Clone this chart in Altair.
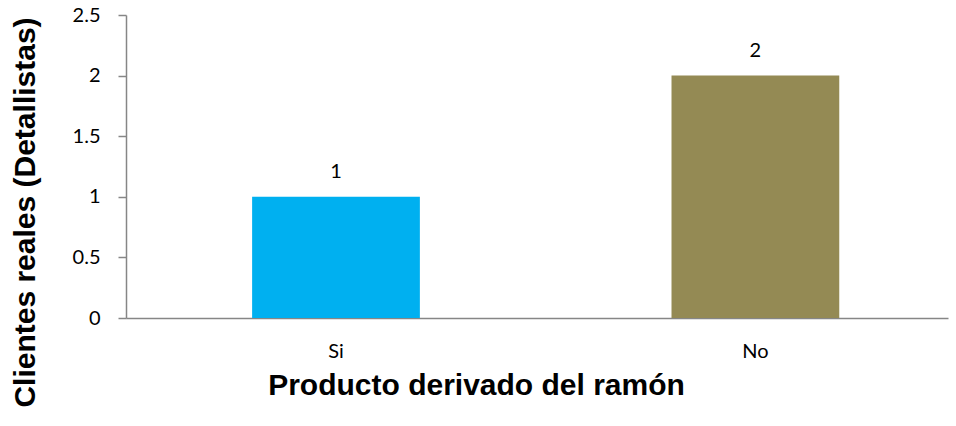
import altair as alt
import pandas as pd

categories = ["Si", "No"]
values = [1, 2]
colors = ["#00B0F0", "#948A54"]
y_ticks = [0, 0.5, 1, 1.5, 2, 2.5]

df = pd.DataFrame({"cat": categories, "val": values})

x_enc = alt.X(
    "cat:N",
    sort=categories,
    scale=alt.Scale(paddingInner=0.6, paddingOuter=0.28, align=0.537),
    axis=alt.Axis(
        title="Producto derivado del ramón",
        titleFont="Liberation Sans", titleFontSize=30, titleFontWeight="bold",
        titleColor="#000000", titleX=350, titleY=67, titleBaseline="middle",
        titleAlign="center",
        labelFont="Lato", labelFontSize=20, labelColor="#000000",
        labelAngle=0, labelPadding=23, ticks=False,
        domainColor="#868686", domainWidth=1.5,
    ),
)

bars = alt.Chart(df).mark_bar().encode(
    x=x_enc,
    y=alt.Y(
        "val:Q",
        scale=alt.Scale(domain=[0, 2.5], nice=False),
        axis=alt.Axis(
            title="Clientes reales (Detallistas)",
            titleFont="Liberation Sans", titleFontSize=30, titleFontWeight="bold",
            titleColor="#000000", titleAngle=-90, titleX=-101, titleY=197,
            titleBaseline="middle", titleAlign="center",
            values=y_ticks, format="~g",
            labelFont="Lato", labelFontSize=20, labelColor="#000000",
            labelPadding=18, tickSize=8, tickColor="#868686", tickWidth=1.5,
            domainColor="#868686", domainWidth=1.5, grid=False,
        ),
    ),
    color=alt.Color("cat:N", scale=alt.Scale(domain=categories, range=colors), legend=None),
)

text = alt.Chart(df).mark_text(
    dy=-25, baseline="middle", font="Lato", fontSize=20, color="#000000"
).encode(
    x=alt.X("cat:N", sort=categories),
    y=alt.Y("val:Q"),
    text=alt.Text("val:Q"),
)

chart = (
    alt.layer(bars, text)
    .properties(
        width=822, height=303,
        autosize=alt.AutoSizeParams(type="none"),
        padding={"left": 126, "top": 15, "right": 8, "bottom": 108},
        background="white",
    )
    .configure_view(stroke=None)
)

chart.save("out.html", embed_options={"renderer": "svg", "actions": False})
